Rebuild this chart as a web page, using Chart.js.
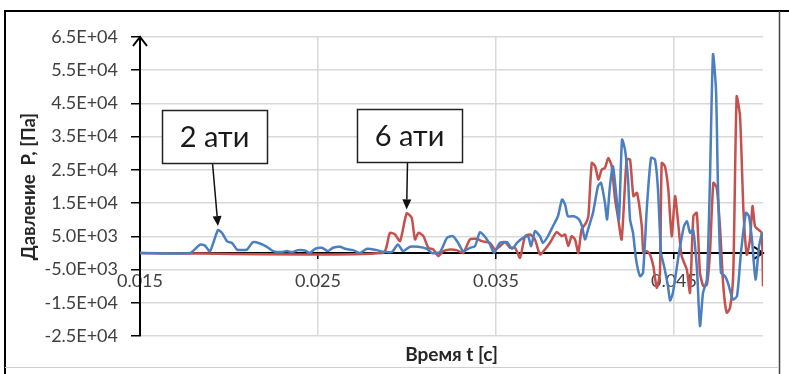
<!DOCTYPE html>
<html>
<head>
<meta charset="utf-8">
<script src="https://cdn.jsdelivr.net/npm/chart.js@4.4.1/dist/chart.umd.min.js"></script>
<style>
  html, body { margin: 0; padding: 0; background: #fff; }
  #wrap { width: 789px; height: 374px; position: relative; }
</style>
</head>
<body>
<div id="wrap"><canvas id="c" width="789" height="374"></canvas></div>
<script>
// Pressure pulse records, time in seconds, pressure in Pa
const tBlue = [
  0.01500, 0.01781, 0.01837, 0.01865, 0.01893, 0.01938, 0.01961, 0.01989, 0.02017, 0.02045,
  0.02073, 0.02101, 0.02135, 0.02174, 0.02213, 0.02247, 0.02287, 0.02326, 0.02354, 0.02388,
  0.02427, 0.02455, 0.02483, 0.02522, 0.02556, 0.02584, 0.02624, 0.02652, 0.02697, 0.02736,
  0.02775, 0.02831, 0.02865, 0.02916, 0.02949, 0.02978, 0.03017, 0.03062, 0.03112, 0.03140,
  0.03185, 0.03225, 0.03258, 0.03287, 0.03315, 0.03354, 0.03382, 0.03410, 0.03438, 0.03466,
  0.03489, 0.03522, 0.03562, 0.03590, 0.03618, 0.03652, 0.03680, 0.03697, 0.03719, 0.03747,
  0.03764, 0.03792, 0.03820, 0.03848, 0.03871, 0.03888, 0.03904, 0.03938, 0.03966, 0.03983,
  0.04000, 0.04017, 0.04045, 0.04073, 0.04090, 0.04112, 0.04124, 0.04140, 0.04157, 0.04180,
  0.04191, 0.04208, 0.04225, 0.04242, 0.04253, 0.04270, 0.04287, 0.04309, 0.04326, 0.04348,
  0.04371, 0.04393, 0.04410, 0.04427, 0.04444, 0.04466, 0.04478, 0.04494, 0.04528, 0.04556,
  0.04573, 0.04590, 0.04607, 0.04629, 0.04646, 0.04663, 0.04685, 0.04702, 0.04719, 0.04736,
  0.04747, 0.04764, 0.04787, 0.04803, 0.04831, 0.04854, 0.04876, 0.04904, 0.04921, 0.04938,
  0.04958, 0.04978, 0.04994
];
const pBlue = [
  0, 0, 2500, 2200, 500, 6900, 6000, 3500, 3000, 1000,
  850, 1000, 3250, 2850, 1850, 550, 250, 550, 250, 850,
  750, 0, 1250, 1550, 550, 1550, 1850, 1250, 850, 0,
  1250, 850, 350, 350, 2550, 550, 1850, 1850, 1250, 0,
  250, 4550, 5050, 3050, 550, 1550, 2050, 6250, 4850, 2550,
  0, 3050, 3250, 1250, 3050, 4550, 5050, 2050, 6550, 5000,
  3050, 5050, 8050, 11050, 16100, 14600, 11050, 11050, 10100, 8050,
  4050, 7050, 12100, 20100, 21100, 15100, 10100, 20100, 26100, 15100,
  10100, 34100, 31000, 22000, 10100, 6000, -2000, -7000, -6000, 14100,
  28600, 28100, 19100, 0, -3950, -9950, -14300, -12000, 0, 8050,
  9550, 6050, 7050, -4950, -22000, -12000, -7950, 22100, 59800, 49100,
  20100, -6000, -7000, -9000, -14000, -13000, 0, 12100, 11050, 4050,
  -8000, 2050, 6050
];
const tRed = [
  0.01500, 0.02865, 0.02904, 0.02933, 0.02961, 0.02998, 0.03026, 0.03045, 0.03064, 0.03092,
  0.03120, 0.03148, 0.03176, 0.03204, 0.03242, 0.03279, 0.03316, 0.03354, 0.03392, 0.03420,
  0.03466, 0.03494, 0.03522, 0.03551, 0.03579, 0.03607, 0.03635, 0.03663, 0.03691, 0.03719,
  0.03747, 0.03775, 0.03803, 0.03841, 0.03869, 0.03888, 0.03906, 0.03925, 0.03944, 0.03962,
  0.03981, 0.04006, 0.04019, 0.04038, 0.04057, 0.04075, 0.04094, 0.04112, 0.04131, 0.04150,
  0.04169, 0.04187, 0.04206, 0.04234, 0.04253, 0.04272, 0.04292, 0.04319, 0.04328, 0.04347,
  0.04365, 0.04384, 0.04403, 0.04421, 0.04431, 0.04449, 0.04468, 0.04487, 0.04506, 0.04525,
  0.04543, 0.04572, 0.04590, 0.04609, 0.04628, 0.04646, 0.04665, 0.04685, 0.04702, 0.04721,
  0.04740, 0.04758, 0.04777, 0.04796, 0.04815, 0.04833, 0.04852, 0.04871, 0.04890, 0.04909,
  0.04927, 0.04941, 0.04955, 0.04974, 0.04993, 0.05000
];
const pRed = [
  0, 0, 6050, 5550, 3550, 11900, 10600, 4050, 6050, 5050,
  1550, 1050, -950, 550, 1050, 850, 0, 4050, 4250, 3550,
  3050, 1050, 2050, 3250, 1550, 1550, -1450, 5050, 5550, 4050,
  -450, 1050, 3050, 6300, 5050, 5550, 2050, 5050, 4050, 0,
  7050, 9050, 11050, 27100, 26100, 22100, 25100, 25600, 28600, 26100,
  16100, 10100, 4050, 28100, 28100, 17100, 18100, 8050, 0, 500,
  -500, -4000, -10500, -6000, 27100, 26100, 19100, 5000, 17100, 8050,
  -950, -5000, -12000, 11050, 12100, -6000, -10000, -9500, 0, 21100,
  19600, 8050, -10000, -18000, -16500, -6000, 47100, 41100, 13000, -500,
  4050, 14100, 8050, 7000, 6050, -10000
];

// Axis ticks
const xTicks = [0.015, 0.025, 0.035, 0.045];
const yTicks = [-25000, -15000, -5000, 5000, 15000, 25000, 35000, 45000, 55000, 65000];

// Callout labels pointing at the first pressure peaks
const calloutTexts = ['2 ати', '6 ати'];
const calloutT = [0.01938, 0.02998];
const calloutP = [6900, 11900];
const calloutBoxes = [{ left: 162, top: 110 }, { left: 357, top: 109 }];

const FONT = 'Lato, "Open Sans", sans-serif';
const BLUE = '#4a7fc1';
const RED = '#c5504d';

function sciLabel(v) {
  const parts = Number(v).toExponential(1).split('e');
  const e = parseInt(parts[1], 10);
  return parts[0] + 'E' + (e < 0 ? '-' : '+') + String(Math.abs(e)).padStart(2, '0');
}

function zip(ts, ps) { return ts.map((t, i) => ({ x: t, y: ps[i] })); }

const decor = {
  id: 'decor',
  beforeDatasetsDraw(chart) {
    const ctx = chart.ctx;
    const ca = chart.chartArea;
    const y0 = chart.scales.y.getPixelForValue(0);
    ctx.save();
    ctx.strokeStyle = '#000';
    ctx.lineWidth = 2;
    // open arrowhead on top of the pressure axis
    ctx.beginPath();
    ctx.moveTo(ca.left - 7, ca.top + 9);
    ctx.lineTo(ca.left, ca.top);
    ctx.lineTo(ca.left + 7, ca.top + 9);
    ctx.stroke();
    // open arrowhead at the end of the time axis
    ctx.beginPath();
    ctx.moveTo(ca.right - 9, y0 - 6);
    ctx.lineTo(ca.right, y0);
    ctx.lineTo(ca.right - 9, y0 + 6);
    ctx.stroke();
    ctx.restore();
  },
  afterDatasetsDraw(chart) {
    const ctx = chart.ctx;
    const xs = chart.scales.x, ys = chart.scales.y;
    ctx.save();
    calloutTexts.forEach((txt, i) => {
      const b = calloutBoxes[i];
      const w = 105, h = 53;
      const ax = xs.getPixelForValue(calloutT[i]);
      const ay = ys.getPixelForValue(calloutP[i]) - 4;
      const sx = b.left + w / 2 - 2, sy = b.top + h;
      // leader line with filled head
      ctx.strokeStyle = '#111';
      ctx.fillStyle = '#111';
      ctx.lineWidth = 1.5;
      const ang = Math.atan2(ay - sy, ax - sx);
      const hl = 10, hw = 4.5;
      const bx = ax - hl * Math.cos(ang), by = ay - hl * Math.sin(ang);
      ctx.beginPath();
      ctx.moveTo(sx, sy);
      ctx.lineTo(bx, by);
      ctx.stroke();
      ctx.beginPath();
      ctx.moveTo(ax, ay);
      ctx.lineTo(bx - hw * Math.sin(ang), by + hw * Math.cos(ang));
      ctx.lineTo(bx + hw * Math.sin(ang), by - hw * Math.cos(ang));
      ctx.closePath();
      ctx.fill();
      // box
      ctx.fillStyle = '#fff';
      ctx.fillRect(b.left, b.top, w, h);
      ctx.strokeStyle = '#222';
      ctx.lineWidth = 1.5;
      ctx.strokeRect(b.left + 0.5, b.top + 0.5, w, h);
      ctx.fillStyle = '#1a1a1a';
      ctx.font = '29px ' + FONT;
      ctx.textAlign = 'center';
      ctx.textBaseline = 'middle';
      ctx.fillText(txt, b.left + w / 2, b.top + h / 2 + 1);
    });
    ctx.restore();
  },
  afterDraw(chart) {
    const ctx = chart.ctx;
    ctx.save();
    // frame around the figure
    ctx.strokeStyle = '#000';
    ctx.lineWidth = 2;
    ctx.beginPath();
    ctx.moveTo(5, 374);
    ctx.lineTo(5, 11);
    ctx.lineTo(789, 11);
    ctx.stroke();
    ctx.strokeStyle = '#444';
    ctx.lineWidth = 1.5;
    ctx.beginPath();
    ctx.moveTo(779.5, 11);
    ctx.lineTo(779.5, 374);
    ctx.stroke();
    ctx.strokeStyle = '#d0d0d0';
    ctx.lineWidth = 1;
    ctx.beginPath();
    ctx.moveTo(5, 367.5);
    ctx.lineTo(779, 367.5);
    ctx.stroke();
    ctx.restore();
  }
};

new Chart(document.getElementById('c'), {
  type: 'line',
  data: {
    datasets: [
      { label: '2 ати', data: zip(tBlue, pBlue), borderColor: BLUE, borderWidth: 2.5, pointRadius: 0, tension: 0.2, fill: false },
      { label: '6 ати', data: zip(tRed, pRed), borderColor: RED, borderWidth: 2.5, pointRadius: 0, tension: 0.2, fill: false }
    ]
  },
  options: {
    responsive: false,
    animation: false,
    parsing: true,
    layout: { padding: { left: 0, right: 26, top: 37, bottom: 7.6 } },
    plugins: {
      legend: { display: false },
      tooltip: { enabled: false },
      title: {
        display: true,
        text: 'Время t [с]',
        position: 'bottom',
        fullSize: false,
        color: '#262626',
        font: { family: FONT, size: 19, weight: 'bold' },
        padding: { top: 7.6, bottom: 0 }
      }
    },
    scales: {
      x: {
        type: 'linear',
        position: { y: 0 },
        min: 0.015,
        max: 0.05,
        afterBuildTicks: s => { s.ticks = xTicks.map(v => ({ value: v })); },
        afterFit: s => { s.height = 0; },
        grid: { color: '#d9d9d9', lineWidth: 1.5, tickColor: '#000', tickLength: 5, drawTicks: true },
        border: { color: '#000', width: 2 },
        ticks: {
          padding: 12, color: '#404040', maxRotation: 0, autoSkip: false,
          font: { family: FONT, size: 18 },
          callback: v => Number(v).toFixed(3)
        }
      },
      y: {
        type: 'linear',
        position: 'left',
        min: -25000,
        max: 65000,
        afterBuildTicks: s => { s.ticks = yTicks.map(v => ({ value: v })); },
        afterFit: s => { s.width = 140; },
        grid: { color: '#d9d9d9', lineWidth: 1.5, tickColor: '#000', tickLength: 9, drawTicks: true },
        border: { color: '#000', width: 2 },
        ticks: {
          padding: 13, color: '#404040', autoSkip: false,
          font: { family: FONT, size: 18 },
          callback: v => sciLabel(v)
        },
        title: {
          display: true,
          text: 'Давление  P, [Па]',
          color: '#262626',
          font: { family: FONT, size: 18.5, weight: 'bold' },
          padding: { top: 18, bottom: 0 }
        }
      }
    }
  },
  plugins: [decor]
});
</script>
</body>
</html>
